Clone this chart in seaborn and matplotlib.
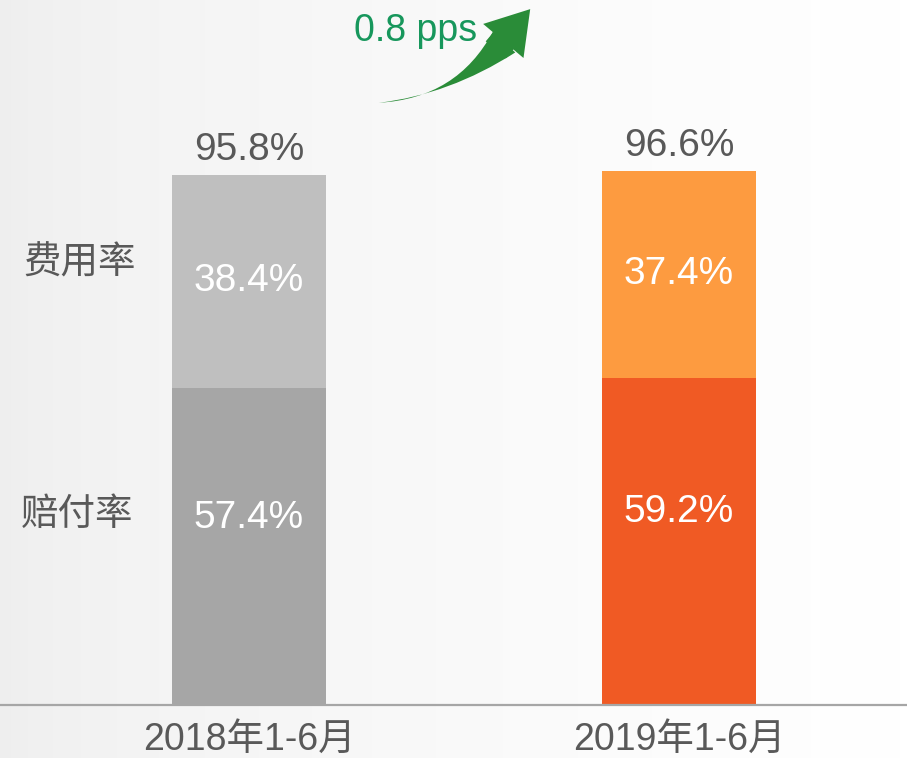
import numpy as np
import matplotlib
matplotlib.use("Agg")
import matplotlib.pyplot as plt
from matplotlib.patches import FancyArrowPatch
import seaborn as sns

periods = ["2018年1-6月", "2019年1-6月"]
loss_ratio = [57.4, 59.2]      # 赔付率
expense_ratio = [38.4, 37.4]   # 费用率
combined = [95.8, 96.6]
row_names = ["费用率", "赔付率"]
change_text = "0.8 pps"

bottom_colors = ["#a6a6a6", "#f05a24"]
top_colors = ["#bfbfbf", "#fd9b40"]

sns.set_style("white")
plt.rcParams["font.family"] = ["Liberation Sans", "Noto Sans CJK SC", "DejaVu Sans"]

fig = plt.figure(figsize=(9.07, 7.58), dpi=100)

# soft grey-to-white backdrop
bg = fig.add_axes([0, 0, 1, 1], zorder=-10)
grad = np.linspace(0, 1, 256) ** 0.6
bg.imshow(np.vstack([grad, grad]), cmap=matplotlib.colors.LinearSegmentedColormap.from_list(
    "bg", ["#eeeeee", "#ffffff"]), aspect="auto", extent=[0, 1, 0, 1])
bg.axis("off")

ax = fig.add_axes([0, 0.0699, 1, 0.9301])
ax.set_facecolor("none")

totals = [b + t for b, t in zip(loss_ratio, expense_ratio)]
sns.barplot(x=periods, y=totals, hue=periods, palette=top_colors, linewidth=0,
            width=0.358, legend=False, ax=ax, saturation=1)
sns.barplot(x=periods, y=loss_ratio, hue=periods, palette=bottom_colors, linewidth=0,
            width=0.358, legend=False, ax=ax, saturation=1)

ax.set_xlim(-0.579, 1.530)
ax.set_ylim(0, 127.5)

txt = "#595959"
for i in range(len(periods)):
    ax.text(i, loss_ratio[i] * 0.59, f"{loss_ratio[i]:.1f}%", ha="center",
            va="center", color="white", fontsize=28)
    ax.text(i, loss_ratio[i] + expense_ratio[i] / 2, f"{expense_ratio[i]:.1f}%",
            ha="center", va="center", color="white", fontsize=28)
    ax.annotate(f"{combined[i]:.1f}%", (i, totals[i]), xytext=(0, 18),
                textcoords="offset points", ha="center", va="center",
                color=txt, fontsize=28)

ax.text(-0.393, loss_ratio[0] + expense_ratio[0] / 2 + 3.3, row_names[0], ha="center",
        va="center", color=txt, fontsize=27, family=["Noto Sans CJK SC"])
ax.text(-0.40, loss_ratio[0] * 0.6, row_names[1], ha="center",
        va="center", color=txt, fontsize=27, family=["Noto Sans CJK SC"])

for s in ["top", "left", "right"]:
    ax.spines[s].set_visible(False)
ax.spines["bottom"].set_color("#a6a6a6")
ax.spines["bottom"].set_linewidth(1.6)
ax.set_yticks([])
ax.set_xlabel("")
ax.set_ylabel("")
ax.tick_params(axis="x", length=0, pad=12, labelsize=27, labelcolor=txt)

# green trend arrow: tapered body (wide end near the head) plus head
body = FancyArrowPatch((506 / 907, 1 - 40 / 758), (376 / 907, 1 - 103 / 758),
                       transform=fig.transFigure, connectionstyle="arc3,rad=-0.2",
                       arrowstyle="wedge,tail_width=1.1,shrink_factor=0.12",
                       mutation_scale=20, color="#2a8c38", lw=0)
fig.add_artist(body)
head = FancyArrowPatch((494 / 907, 1 - 52 / 758), (532 / 907, 1 - 7 / 758),
                       transform=fig.transFigure,
                       arrowstyle="simple,head_length=1.5,head_width=1.9,tail_width=0.95",
                       mutation_scale=20, color="#2a8c38", lw=0)
fig.add_artist(head)
fig.text(416 / 907, 1 - 31 / 758, change_text, ha="center", va="center",
         color="#17975c", fontsize=27)

fig.savefig("out.png", dpi=100)
